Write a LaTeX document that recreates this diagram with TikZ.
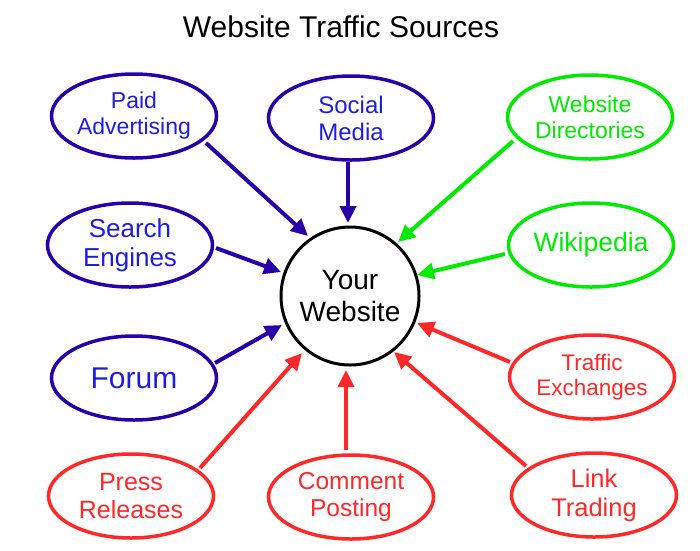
\documentclass[tikz,border=0pt]{standalone}
\usepackage{fontspec}
\setmainfont{Liberation Sans}
\usetikzlibrary{shapes.geometric,arrows.meta}
\definecolor{bline}{RGB}{40,0,170}
\definecolor{btext}{RGB}{30,30,225}
\definecolor{gcol}{RGB}{0,235,0}
\definecolor{rcol}{RGB}{255,40,40}
\tikzset{
  src/.style={ellipse, draw, line width=3.5pt, inner sep=0pt, minimum width=165pt, minimum height=84pt, align=center, fill=white},
  bsrc/.style={src, draw=bline, text=btext},
  gsrc/.style={src, draw=gcol, text=gcol},
  rsrc/.style={src, draw=rcol, text=rcol},
  arr/.style={line width=4pt, -{Triangle[length=17pt,width=16pt]}},
  fsz/.style n args={2}{font=\fontsize{#1}{#2}\selectfont},
}
\begin{document}
\begin{tikzpicture}[x=1pt,y=-1pt]
\useasboundingbox (0,0) rectangle (700,550);
\node[fsz={30}{33}] (title) at (341,27) {Website Traffic Sources};
\node[circle, draw=black, line width=3pt, minimum size=138pt, inner sep=0pt, align=center, fsz={28}{32}] (web) at (350,296) {Your\\Website};

\node[bsrc, fsz={23}{26}] (pa) at (134,116) {Paid\\Advertising};
\node[bsrc, fsz={24}{27}] (sm) at (351,118) {Social\\Media};
\node[gsrc, fsz={23}{26}] (wd) at (590,117) {Website\\Directories};
\node[bsrc, fsz={26}{29}] (se) at (130,245) {Search\\Engines};
\node[gsrc, fsz={26.5}{29}] (wk) at (591,245) {Wikipedia};
\node[bsrc, fsz={30}{33}] (fo) at (134,378) {Forum};
\node[rsrc, fsz={22.5}{25.5}] (te) at (592,377) {Traffic\\Exchanges};
\node[rsrc, fsz={25}{28}] (pr) at (131,496) {Press\\Releases};
\node[rsrc, fsz={24.5}{27.5}] (cp) at (351,497) {Comment\\Posting};
\node[rsrc, fsz={25.5}{29}] (lt) at (594,495) {Link\\Trading};

% arrow tails and tips
\coordinate (pa-s) at (206,143); \coordinate (pa-e) at (308,236);
\coordinate (sm-s) at (348,162); \coordinate (sm-e) at (348,223);
\coordinate (wd-s) at (513,141); \coordinate (wd-e) at (398,242);
\coordinate (wk-s) at (505,254); \coordinate (wk-e) at (417,275);
\coordinate (se-s) at (216,248); \coordinate (se-e) at (281,272);
\coordinate (fo-s) at (215,363); \coordinate (fo-e) at (282,325);
\coordinate (te-s) at (510,362); \coordinate (te-e) at (417,323);
\coordinate (pr-s) at (200,468); \coordinate (pr-e) at (302,353);
\coordinate (cp-s) at (346,450); \coordinate (cp-e) at (346,370);
\coordinate (lt-s) at (526,466); \coordinate (lt-e) at (394,352);

\draw[arr, bline] (pa-s) -- (pa-e);
\draw[arr, bline] (sm-s) -- (sm-e);
\draw[arr, gcol] (wd-s) -- (wd-e);
\draw[arr, gcol] (wk-s) -- (wk-e);
\draw[arr, bline] (se-s) -- (se-e);
\draw[arr, bline] (fo-s) -- (fo-e);
\draw[arr, rcol] (te-s) -- (te-e);
\draw[arr, rcol] (pr-s) -- (pr-e);
\draw[arr, rcol] (cp-s) -- (cp-e);
\draw[arr, rcol] (lt-s) -- (lt-e);
\end{tikzpicture}
\end{document}
